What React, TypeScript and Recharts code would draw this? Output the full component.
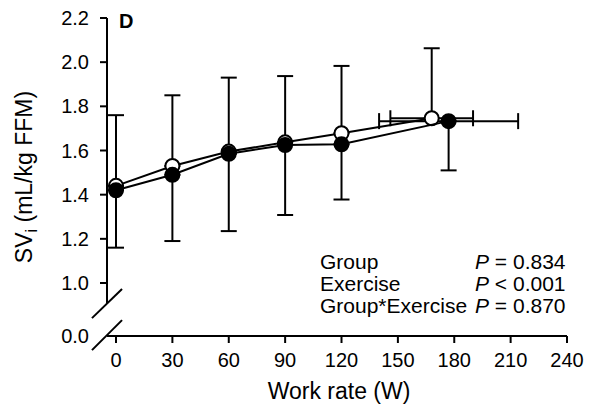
import { ComposedChart, Scatter, XAxis, YAxis, ErrorBar, ReferenceLine } from "recharts";

const FONT = "'Liberation Sans', Arial, Helvetica, sans-serif";

// work rate (W) and indexed stroke volume, open circles
const openWork = [0, 30, 60, 90, 120, 168];
const openSV = [1.44, 1.53, 1.595, 1.637, 1.678, 1.746];
const openSD = [0.32, 0.32, 0.335, 0.3, 0.305, 0.317];
const openPeakWorkSD = 22;

// filled circles
const filledWork = [0, 30, 60, 90, 120, 177];
const filledSV = [1.42, 1.49, 1.585, 1.625, 1.628, 1.733];
const filledSD = [0.26, 0.3, 0.35, 0.317, 0.25, 0.223];
const filledPeakWorkSD = 37;

const xTicks = [0, 30, 60, 90, 120, 150, 180, 210, 240];
// the lowest tick stands for the broken-off 0.0
const AXIS_FLOOR = 0.76;
const yTicks = [AXIS_FLOOR, 1.0, 1.2, 1.4, 1.6, 1.8, 2.0, 2.2];

const statLabels = ["Group", "Exercise", "Group*Exercise"];
const statOps = ["=", "<", "="];
const statValues = ["0.834", "0.001", "0.870"];

const PLOT_LEFT = 107;

const openData = openWork.map((w, i) => ({
  w,
  sv: openSV[i],
  yErr: [0, openSD[i]],
  xErr: i === openWork.length - 1 ? openPeakWorkSD : undefined,
}));

const filledData = filledWork.map((w, i) => ({
  w,
  sv: filledSV[i],
  yErr: [filledSD[i], 0],
  xErr: i === filledWork.length - 1 ? filledPeakWorkSD : undefined,
}));

const OpenDot = (props: any) => (
  <circle cx={props.cx} cy={props.cy} r={7} fill="#fff" stroke="#000" strokeWidth={2} />
);
const FilledDot = (props: any) => (
  <circle cx={props.cx} cy={props.cy} r={7} fill="#000" stroke="#000" strokeWidth={2} />
);

const YTick = (props: any) => {
  const v = props.payload.value;
  const isFloor = v < 0.9;
  return (
    <g>
      {!isFloor && (
        <line x1={PLOT_LEFT - 7} x2={PLOT_LEFT} y1={props.y} y2={props.y} stroke="#000" strokeWidth={2} />
      )}
      <text
        x={PLOT_LEFT - 18}
        y={props.y}
        dy="0.35em"
        textAnchor="end"
        fontSize={20}
        fontFamily={FONT}
        fill="#000"
      >
        {isFloor ? "0.0" : v.toFixed(1)}
      </text>
    </g>
  );
};

const XTitle = (props: any) => {
  const vb = props.viewBox;
  return (
    <text
      x={vb.x + vb.width / 2 + 2}
      y={vb.y + 63}
      textAnchor="middle"
      fontSize={23}
      fontFamily={FONT}
      fill="#000"
    >
      Work rate (W)
    </text>
  );
};

const YTitle = (props: any) => {
  const vb = props.viewBox;
  const cy = vb.y + vb.height / 2;
  return (
    <text
      transform={`translate(32, ${cy}) rotate(-90)`}
      textAnchor="middle"
      fontSize={23}
      fontFamily={FONT}
      fill="#000"
    >
      SV
      <tspan fontSize={16} dy={5}>i</tspan>
      <tspan dy={-5}> (mL/kg FFM)</tspan>
    </text>
  );
};

const axisEdge = -4.8;

export default function App() {
  return (
    <div style={{ position: "absolute", left: 0, top: 0, width: 591, height: 413, background: "#fff" }}>
      <ComposedChart width={591} height={413} margin={{ top: 18, right: 24, bottom: 0, left: 0 }}>
        <XAxis
          type="number"
          dataKey="w"
          domain={[axisEdge, 240]}
          ticks={xTicks}
          allowDataOverflow
          height={77}
          axisLine={{ stroke: "#000", strokeWidth: 2 }}
          tickLine={{ stroke: "#000", strokeWidth: 2 }}
          tickSize={7}
          tickMargin={10}
          tick={{ fill: "#000", fontSize: 20, fontFamily: FONT }}
          label={<XTitle />}
        />
        <YAxis
          type="number"
          dataKey="sv"
          domain={[AXIS_FLOOR, 2.2]}
          ticks={yTicks}
          allowDataOverflow
          width={PLOT_LEFT}
          axisLine={false}
          tickLine={false}
          tick={<YTick />}
          label={<YTitle />}
        />
        {/* broken y axis */}
        <ReferenceLine
          segment={[{ x: axisEdge, y: 2.2 }, { x: axisEdge, y: 0.91 }]}
          stroke="#000"
          strokeWidth={2}
          ifOverflow="visible"
        />
        <ReferenceLine
          segment={[{ x: -12.8, y: 0.841 }, { x: 3.2, y: 0.973 }]}
          stroke="#000"
          strokeWidth={2}
          ifOverflow="visible"
        />
        <ReferenceLine
          segment={[{ x: -12.8, y: 0.696 }, { x: 3.2, y: 0.832 }]}
          stroke="#000"
          strokeWidth={2}
          ifOverflow="visible"
        />
        <Scatter
          data={openData}
          shape={<OpenDot />}
          line={{ stroke: "#000", strokeWidth: 2 }}
          isAnimationActive={false}
        >
          <ErrorBar dataKey="yErr" direction="y" width={8} stroke="#000" strokeWidth={2} />
          <ErrorBar dataKey="xErr" direction="x" width={8} stroke="#000" strokeWidth={2} />
        </Scatter>
        <Scatter
          data={filledData}
          shape={<FilledDot />}
          line={{ stroke: "#000", strokeWidth: 2 }}
          isAnimationActive={false}
        >
          <ErrorBar dataKey="yErr" direction="y" width={8} stroke="#000" strokeWidth={2} />
          <ErrorBar dataKey="xErr" direction="x" width={8} stroke="#000" strokeWidth={2} />
        </Scatter>
      </ComposedChart>
      <svg
        width={591}
        height={413}
        style={{ position: "absolute", left: 0, top: 0, pointerEvents: "none" }}
        fontFamily={FONT}
      >
        <text x={119} y={28} fontSize={20} fontWeight="bold" fill="#000">
          D
        </text>
        {statLabels.map((s, i) => (
          <g key={s}>
            <text x={320} y={269 + i * 22} fontSize={21} fill="#000">
              {s}
            </text>
            <text x={475} y={269 + i * 22} fontSize={21} fill="#000">
              <tspan fontStyle="italic">P</tspan> {statOps[i]} {statValues[i]}
            </text>
          </g>
        ))}
      </svg>
    </div>
  );
}
